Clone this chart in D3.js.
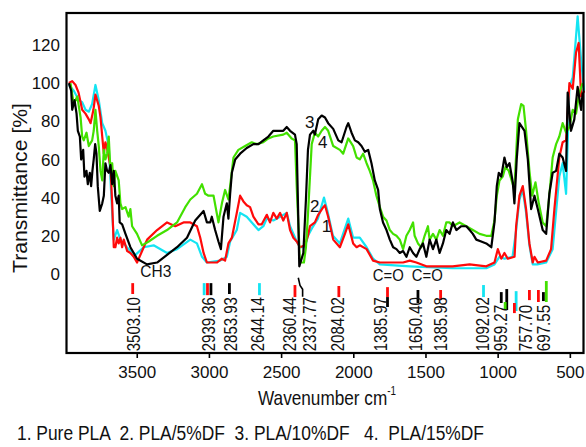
<!DOCTYPE html>
<html>
<head>
<meta charset="utf-8">
<script src="https://cdn.jsdelivr.net/npm/d3@7"></script>
<style>
  body { margin: 0; background: #fff; }
  svg text { font-family: 'Liberation Sans', Arial, sans-serif; fill: #111; }
  svg text.narrow { font-family: 'Liberation Sans Narrow', 'Arial Narrow', 'Liberation Sans', Arial, sans-serif; }
</style>
</head>
<body>
<div id="chart"></div>
<script>
// FTIR spectra, [wavenumber cm-1, transmittance %]
const seriesNames = ['Pure PLA', 'PLA/5%DF', 'PLA/10%DF', 'PLA/15%DF'];
const seriesColors = ['#ff0a0a', '#14e4f2', '#000000', '#42e000'];

const pla0 = [[3970,99],[3947,100],[3924,98],[3903,94],[3889,89],[3878,85],[3855,83],[3832,80],[3820,78],[3800,85],[3786,93],[3763,87],[3751,81],[3739,71],[3728,62],[3717,68],[3703,64],[3682,55],[3670,36],[3659,13],[3648,13],[3636,18],[3625,15],[3613,18],[3601,13],[3590,17],[3566,11],[3544,10],[3521,8],[3498,5],[3463,11],[3428,17],[3359,22],[3290,26],[3233,24],[3176,26],[3129,26],[3083,24],[3060,18],[3037,10],[3014,5],[2979,5],[2945,5],[2910,7],[2888,6],[2865,15],[2841,18],[2807,31],[2784,40],[2761,37],[2738,35],[2715,34],[2692,29],[2657,25],[2634,25],[2599,30],[2577,26],[2554,31],[2530,28],[2507,31],[2485,27],[2461,31],[2438,22],[2415,18],[2392,16],[2369,13],[2335,14],[2314,19],[2300,24],[2266,26],[2243,30],[2208,34],[2196,35],[2174,29],[2139,17],[2093,13],[2058,20],[2035,25],[2001,15],[1977,13],[1955,14],[1908,12],[1863,6],[1816,5],[1747,5],[1701,5],[1655,5],[1609,6],[1563,5],[1494,3],[1471,3],[1312,3],[1194,4],[1079,3],[1022,5],[999,12],[975,7],[953,10],[930,7],[883,8],[872,24],[849,40],[826,45],[803,33],[780,15],[757,5],[745,8],[722,5],[664,6],[630,12],[607,33],[573,60],[550,68],[526,69],[503,99],[480,96],[457,115],[439,120],[422,92],[400,95]];

const pla5 = [[3970,98],[3936,95],[3901,90],[3878,89],[3855,85],[3832,84],[3809,88],[3786,98],[3763,90],[3739,78],[3717,74],[3694,66],[3670,31],[3659,17],[3636,22],[3613,17],[3590,15],[3556,12],[3509,9],[3452,13],[3383,14],[3290,10],[3221,12],[3129,17],[3083,15],[3048,8],[3014,5],[2922,6],[2876,8],[2853,16],[2807,22],[2784,31],[2738,29],[2703,26],[2657,22],[2623,24],[2599,28],[2554,27],[2507,29],[2461,31],[2438,24],[2392,16],[2369,13],[2335,13],[2314,19],[2286,23],[2245,28],[2203,39],[2176,31],[2141,19],[2093,15],[2035,28],[2001,18],[1955,18],[1908,13],[1863,7],[1816,4],[1609,3],[1312,2],[1079,2],[1022,4],[988,8],[953,7],[897,8],[872,22],[849,38],[826,43],[803,31],[780,14],[757,4],[725,4],[664,5],[619,12],[573,50],[550,57],[526,41],[503,97],[480,102],[446,134],[422,111],[400,94]];

const pla10 = [[3970,99],[3954,95],[3947,85],[3931,90],[3917,83],[3908,74],[3894,71],[3885,59],[3871,64],[3862,50],[3848,53],[3839,46],[3825,52],[3816,45],[3807,53],[3798,59],[3788,67],[3779,62],[3770,45],[3756,32],[3739,36],[3728,40],[3717,57],[3705,53],[3694,52],[3682,56],[3670,46],[3659,53],[3648,40],[3636,36],[3625,40],[3618,26],[3601,25],[3578,20],[3544,13],[3498,7],[3429,4],[3359,5],[3290,9],[3221,13],[3152,18],[3095,27],[3037,32],[3014,26],[2991,26],[2980,29],[2957,22],[2934,16],[2917,12],[2899,29],[2876,36],[2865,28],[2853,41],[2841,52],[2818,59],[2784,62],[2738,65],[2692,67],[2657,67],[2623,69],[2588,71],[2554,74],[2507,74],[2485,74],[2461,76],[2438,74],[2404,72],[2392,67],[2374,3],[2346,10],[2328,38],[2314,64],[2300,72],[2277,74],[2266,72],[2243,80],[2219,82],[2196,81],[2174,78],[2139,75],[2104,69],[2081,68],[2047,76],[2035,78],[2012,73],[1989,69],[1966,68],[1943,66],[1920,63],[1897,64],[1874,57],[1851,48],[1828,43],[1816,33],[1794,26],[1770,22],[1747,17],[1724,13],[1701,12],[1678,10],[1655,11],[1632,8],[1609,13],[1586,10],[1563,8],[1540,12],[1517,15],[1494,8],[1471,17],[1448,12],[1425,17],[1402,10],[1379,15],[1356,22],[1333,20],[1310,26],[1286,22],[1252,24],[1217,24],[1194,22],[1172,20],[1148,17],[1114,16],[1079,15],[1044,13],[1022,26],[1006,45],[992,52],[975,50],[953,60],[937,55],[918,57],[895,47],[884,36],[868,59],[849,78],[814,74],[791,59],[768,33],[745,40],[722,33],[688,22],[664,20],[642,41],[619,52],[595,53],[573,62],[550,60],[526,53],[515,94],[492,74],[469,80],[446,97],[422,85],[411,94]];

const pla15 = [[3959,99],[3936,88],[3912,92],[3889,81],[3878,71],[3867,69],[3848,73],[3832,66],[3809,69],[3798,74],[3786,85],[3774,74],[3763,66],[3751,53],[3739,48],[3728,64],[3717,59],[3705,62],[3694,71],[3682,53],[3670,57],[3659,45],[3648,53],[3625,48],[3613,36],[3601,33],[3578,34],[3556,29],[3544,33],[3532,24],[3498,20],[3463,14],[3417,16],[3359,19],[3290,22],[3221,26],[3164,34],[3129,38],[3083,41],[3048,46],[3026,41],[3003,40],[2968,40],[2934,26],[2910,36],[2888,43],[2865,38],[2853,45],[2830,60],[2796,64],[2749,66],[2703,68],[2668,67],[2623,68],[2588,70],[2554,71],[2485,72],[2461,73],[2427,70],[2404,69],[2392,45],[2369,5],[2342,5],[2328,13],[2314,30],[2288,67],[2266,73],[2243,71],[2219,74],[2196,76],[2174,74],[2139,66],[2093,64],[2070,62],[2035,70],[2001,66],[1977,60],[1955,59],[1932,62],[1908,57],[1886,53],[1863,48],[1840,40],[1816,34],[1794,29],[1770,27],[1747,22],[1724,20],[1701,19],[1678,17],[1655,12],[1632,19],[1609,22],[1586,26],[1575,19],[1552,15],[1529,13],[1506,19],[1483,24],[1471,17],[1448,20],[1425,17],[1402,22],[1379,19],[1356,26],[1333,26],[1310,24],[1264,26],[1217,24],[1172,22],[1125,20],[1079,19],[1044,19],[1022,27],[1006,40],[987,48],[965,50],[946,55],[923,53],[899,47],[884,43],[860,80],[837,88],[821,87],[803,74],[780,53],[761,40],[738,47],[715,36],[688,26],[664,24],[642,40],[619,60],[595,67],[573,71],[550,78],[526,73],[503,76],[480,85],[457,83],[434,94],[411,99]];

const xTicks = [3500, 3000, 2500, 2000, 1500, 1000, 500];
const yTicks = [0, 20, 40, 60, 80, 100, 120];

// peak annotations under the spectra
const peakLabels = ['3503.10', '2939.36', '2853.93', '2644.14', '2360.44', '2337.77', '2084.02', '1385.97', '1650.40', '1385.98', '1092.02', '959.27', '757.70', '697.55'];
const peakLabelAt = [3523, 3005, 2850, 2660, 2441, 2302, 2105, 1807, 1565, 1392, 1105, 978, 805, 678];
// [wavenumber, series index, top %, bottom %]
const peakMarks = [[3528,0,-5.8,-11.5],[3033,1,-5.8,-12.1],[3010,0,-5.8,-12.1],[2986,2,-5.8,-12.1],[2858,2,-5.8,-11.5],[2650,1,-5.8,-12.1],[2404,0,-6.8,-13.1],[2100,0,-7.3,-13.1],[1763,0,-7.9,-13.1],[1763,2,-13.1,-18.3],[1552,2,-9.4,-16.2],[1395,0,-9.4,-14.7],[1098,1,-6.8,-13.1],[975,2,-10.5,-16.2],[937,2,-8.9,-19.9],[948,3,-15.7,-19.9],[872,1,-10,-20.4],[884,0,-16.2,-21.5],[780,0,-9.4,-14.7],[718,0,-9.4,-15.7],[683,2,-10.5,-15.2],[663,3,-4.7,-15.7]];
const blackKink = [[2381,-3],[2369,-7],[2351,-9],[2351,-13]];

// [text, wavenumber, %]
const notes = [['CH3', 3475, -2.6], ['C=O', 1865, -4.5], ['C=O', 1595, -4.5], ['3', 2335, 75.5], ['4', 2245, 65], ['2', 2300, 31.4], ['1', 2219, 21]];

(function () {
  const W = 586, H = 447;
  const margin = {top: 13, left: 66};
  const width = 519, height = 340;

  const svg = d3.select('#chart').append('svg')
    .attr('width', W)
    .attr('height', H);

  const chart = svg.append('g')
    .attr('transform', 'translate(' + margin.left + ',' + margin.top + ')');

  const x = d3.scaleLinear().domain([3990, 395]).range([0, width]);
  const y = d3.scaleLinear().domain([-42.4, 135.7]).range([height, 0]);

  svg.append('defs').append('clipPath').attr('id', 'plotclip')
    .append('rect').attr('width', width).attr('height', height);

  const line = d3.line().x(d => x(d[0])).y(d => y(d[1]));

  // draw order: cyan, red, green, black
  const allSeries = [pla0, pla5, pla10, pla15];
  const order = [1, 0, 3, 2];
  const curves = chart.append('g').attr('clip-path', 'url(#plotclip)');
  order.forEach(i => {
    curves.append('path')
      .datum(allSeries[i])
      .attr('d', line)
      .attr('fill', 'none')
      .attr('stroke', seriesColors[i])
      .attr('stroke-width', 2.2)
      .attr('stroke-linejoin', 'round');
  });

  // little colored marks above the peak labels
  chart.append('g').selectAll('line')
    .data(peakMarks)
    .enter()
    .append('line')
    .attr('x1', d => x(d[0]))
    .attr('x2', d => x(d[0]))
    .attr('y1', d => y(d[2]))
    .attr('y2', d => y(d[3]))
    .attr('stroke', d => seriesColors[d[1]])
    .attr('stroke-width', 2.8);

  chart.append('path')
    .datum(blackKink)
    .attr('d', line)
    .attr('fill', 'none')
    .attr('stroke', '#000')
    .attr('stroke-width', 1.6);

  // condensed look: squeeze the labels to the reference's length
  chart.append('g').selectAll('text')
    .data(peakLabels)
    .enter()
    .append('text')
    .attr('class', 'narrow')
    .attr('transform', (d, i) => 'translate(' + x(peakLabelAt[i]) + ',' + y(-41.5) + ') rotate(-90)')
    .attr('dy', '0.35em')
    .attr('textLength', d => d.length * 7.75)
    .attr('lengthAdjust', 'spacingAndGlyphs')
    .style('font-size', '18px')
    .text(d => d);

  chart.append('g').selectAll('text')
    .data(notes)
    .enter()
    .append('text')
    .attr('class', 'narrow')
    .attr('x', d => x(d[1]))
    .attr('y', d => y(d[2]))
    .attr('textLength', d => d[0].length > 1 ? 31 : null)
    .attr('lengthAdjust', 'spacingAndGlyphs')
    .style('font-size', '17px')
    .text(d => d[0]);

  // frame
  chart.append('rect')
    .attr('x', 0.5)
    .attr('y', 0)
    .attr('width', width - 2)
    .attr('height', height)
    .attr('fill', 'none')
    .attr('stroke', '#000')
    .attr('stroke-width', 2.2);

  const xAxis = chart.append('g')
    .attr('transform', 'translate(0,' + height + ')')
    .call(d3.axisBottom(x).tickValues(xTicks).tickSize(5).tickPadding(8).tickFormat(d3.format('d')));
  xAxis.select('.domain').remove();
  xAxis.selectAll('line').attr('stroke', '#000').attr('stroke-width', 1.6);
  xAxis.selectAll('text').style('font-size', '17px').attr('fill', '#111');

  const yAxis = chart.append('g')
    .call(d3.axisLeft(y).tickValues(yTicks).tickSize(0).tickPadding(6));
  yAxis.select('.domain').remove();
  yAxis.selectAll('text').style('font-size', '17px').attr('fill', '#111').attr('dy', '0.45em');

  // titles
  svg.append('text')
    .attr('transform', 'translate(27,188) rotate(-90)')
    .attr('text-anchor', 'middle')
    .attr('textLength', 170)
    .attr('lengthAdjust', 'spacingAndGlyphs')
    .style('font-size', '20px')
    .text('Transmittance [%]');

  // one text element, superscript as a tspan
  const xTitle = svg.append('text')
    .attr('class', 'narrow')
    .attr('x', 258)
    .attr('y', 405)
    .attr('textLength', 138)
    .attr('lengthAdjust', 'spacingAndGlyphs')
    .style('font-size', '21px');
  xTitle.append('tspan').text('Wavenumber cm');
  xTitle.append('tspan')
    .attr('dy', -10)
    .style('font-size', '12px')
    .text('-1');

  svg.append('text')
    .attr('class', 'narrow')
    .attr('x', 17)
    .attr('y', 440)
    .attr('textLength', 467)
    .attr('lengthAdjust', 'spacingAndGlyphs')
    .style('font-size', '20px')
    .style('white-space', 'pre')
    .text(seriesNames.map((n, i) => (i + 1) + '. ' + n).join('  ').replace('3. PLA/10%DF  ', '3. PLA/10%DF   ').replace('4. ', '4.  '));
})();
</script>
</body>
</html>
